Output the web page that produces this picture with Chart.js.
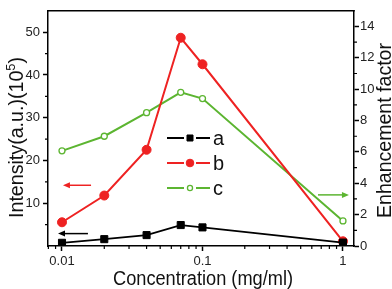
<!DOCTYPE html>
<html lang="en">
<head>
<meta charset="UTF-8">
<title>Intensity / Enhancement factor</title>
<style>
    body { margin: 0; background: #fff; }
    .chart-container { width: 392px; height: 289px; }
</style>
</head>
<body>
<div class="chart-container"><canvas id="enhChart"></canvas></div>

<script src="https://cdn.jsdelivr.net/npm/chart.js"></script>
<script>
    // data
    const concentrations = [0.01, 0.02, 0.04, 0.07, 0.1, 1];
    const seriesA = [0.75, 1.6, 2.55, 4.9, 4.35, 0.8];     // left axis
    const seriesB = [5.55, 11.8, 22.5, 48.7, 42.5, 1.1];   // left axis
    const seriesC = [6.07, 7.0, 8.5, 9.8, 9.4, 1.6];       // right axis
    const seriesNames = ['a', 'b', 'c'];

    const xTickValues = [0.01, 0.1, 1];
    const xMinorValues = [0.008, 0.009, 0.02, 0.03, 0.04, 0.05, 0.06, 0.07, 0.08, 0.09,
                          0.2, 0.3, 0.4, 0.5, 0.6, 0.7, 0.8, 0.9];
    const leftTickValues = [10, 20, 30, 40, 50];
    const leftMinorValues = [5, 15, 25, 35, 45];
    const rightTickValues = [0, 2, 4, 6, 8, 10, 12, 14];
    const rightMinorValues = [1, 3, 5, 7, 9, 11, 13];

    const FONT = "'Liberation Sans', Arial, sans-serif";
    const RED = '#ee2222';
    const GREEN = '#5cb531';

    const toPoints = ys => concentrations.map((x, i) => ({ x: x, y: ys[i] }));

    // arrows showing which axis a series belongs to
    const arrows = [
        { from: 0.0153, to: 0.00937, y: 2.9, axis: 'y', color: '#000' },
        { from: 0.0161, to: 0.01016, y: 14.2, axis: 'y', color: RED },
        { from: 0.664, to: 1.103, y: 3.26, axis: 'y1', color: GREEN }
    ];

    function fittedText(ctx, text, x, y, rot, target, font) {
        ctx.save();
        ctx.font = font;
        const w = ctx.measureText(text).width;
        ctx.translate(x, y);
        ctx.rotate(rot);
        ctx.scale(target / w, 1);
        ctx.textAlign = 'center';
        ctx.textBaseline = 'alphabetic';
        ctx.fillText(text, 0, 0);
        ctx.restore();
    }

    const decor = {
        id: 'decor',
        afterDraw(chart) {
            const { ctx, chartArea: a, scales } = chart;
            ctx.save();
            ctx.strokeStyle = '#000';
            ctx.lineWidth = 1.5;
            // top frame line
            ctx.beginPath();
            ctx.moveTo(a.left - 0.75, a.top);
            ctx.lineTo(a.right + 0.75, a.top);
            ctx.stroke();

            // minor ticks
            ctx.lineWidth = 1.2;
            ctx.beginPath();
            xMinorValues.forEach(v => {
                const px = scales.x.getPixelForValue(v);
                ctx.moveTo(px, a.bottom);
                ctx.lineTo(px, a.bottom + 3);
            });
            leftMinorValues.forEach(v => {
                const py = scales.y.getPixelForValue(v);
                ctx.moveTo(a.left, py);
                ctx.lineTo(a.left - 3, py);
            });
            rightMinorValues.forEach(v => {
                const py = scales.y1.getPixelForValue(v);
                ctx.moveTo(a.right, py);
                ctx.lineTo(a.right + 3, py);
            });
            ctx.stroke();

            // arrows
            arrows.forEach(ar => {
                const x0 = scales.x.getPixelForValue(ar.from);
                const x1 = scales.x.getPixelForValue(ar.to);
                const py = scales[ar.axis].getPixelForValue(ar.y);
                const dir = Math.sign(x1 - x0);
                ctx.strokeStyle = ar.color;
                ctx.fillStyle = ar.color;
                ctx.lineWidth = 1.5;
                ctx.beginPath();
                ctx.moveTo(x0, py);
                ctx.lineTo(x1 - dir * 5, py);
                ctx.stroke();
                ctx.beginPath();
                ctx.moveTo(x1, py);
                ctx.lineTo(x1 - dir * 7, py - 3);
                ctx.lineTo(x1 - dir * 7, py + 3);
                ctx.closePath();
                ctx.fill();
            });

            // legend (line - marker - line, small gaps round the marker)
            const legendY = [138, 163, 188];
            chart.data.datasets.forEach((ds, i) => {
                const ly = legendY[i];
                ctx.strokeStyle = ds.borderColor;
                ctx.lineWidth = 2;
                ctx.beginPath();
                ctx.moveTo(167, ly);
                ctx.lineTo(184, ly);
                ctx.moveTo(196, ly);
                ctx.lineTo(210, ly);
                ctx.stroke();
                ctx.fillStyle = ds.pointBackgroundColor;
                ctx.lineWidth = ds.pointBorderWidth;
                Chart.helpers.drawPoint(ctx, {
                    pointStyle: ds.pointStyle,
                    radius: ds.pointRadius * 0.85,
                    borderWidth: ds.pointBorderWidth
                }, 190, ly);
                ctx.fillStyle = '#111';
                ctx.font = '20px ' + FONT;
                ctx.textAlign = 'left';
                ctx.textBaseline = 'middle';
                ctx.fillText(ds.label, 213, ly + 1);
            });

            // axis titles
            ctx.fillStyle = '#111';
            fittedText(ctx, 'Concentration (mg/ml)', 203, 285, 0, 180, '20px ' + FONT);
            fittedText(ctx, 'Enhancement factor', 391, 130.5, -Math.PI / 2, 175, '20px ' + FONT);

            // left title with superscript
            ctx.save();
            const mainFont = '20px ' + FONT, supFont = '13px ' + FONT;
            ctx.font = mainFont;
            const w1 = ctx.measureText('Intensity(a.u.)(10').width;
            const w3 = ctx.measureText(')').width;
            ctx.font = supFont;
            const w2 = ctx.measureText('5').width;
            const total = w1 + w2 + w3;
            ctx.translate(23, 137.5);
            ctx.rotate(-Math.PI / 2);
            ctx.scale(161 / total, 1);
            ctx.textAlign = 'left';
            ctx.textBaseline = 'alphabetic';
            ctx.font = mainFont;
            ctx.fillText('Intensity(a.u.)(10', -total / 2, 0);
            ctx.font = supFont;
            ctx.fillText('5', -total / 2 + w1, -8);
            ctx.font = mainFont;
            ctx.fillText(')', -total / 2 + w1 + w2, 0);
            ctx.restore();

            ctx.restore();
        }
    };

    const tickFont = { family: FONT, size: 13 };

    new Chart(document.getElementById('enhChart').getContext('2d'), {
        type: 'line',
        data: {
            datasets: [
                { label: seriesNames[0], data: toPoints(seriesA), yAxisID: 'y',
                  borderColor: '#000', backgroundColor: '#000', borderWidth: 1.8,
                  pointStyle: 'rect', pointRadius: 5, pointBackgroundColor: '#000', pointBorderWidth: 1 },
                { label: seriesNames[1], data: toPoints(seriesB), yAxisID: 'y',
                  borderColor: RED, backgroundColor: RED, borderWidth: 2,
                  pointStyle: 'circle', pointRadius: 4.5, pointBackgroundColor: RED, pointBorderWidth: 1 },
                { label: seriesNames[2], data: toPoints(seriesC), yAxisID: 'y1',
                  borderColor: GREEN, backgroundColor: '#fff', borderWidth: 2,
                  pointStyle: 'circle', pointRadius: 3, pointBackgroundColor: '#fff', pointBorderWidth: 1.3 }
            ]
        },
        options: {
            responsive: true,
            maintainAspectRatio: false,
            animation: false,
            layout: { padding: { top: 2, left: 0, right: 0, bottom: 0 } },
            plugins: { legend: { display: false }, tooltip: { enabled: false } },
            scales: {
                x: {
                    type: 'logarithmic', position: 'bottom', min: 0.00795, max: 1.198,
                    afterFit(s) { s.height = 43; },
                    afterBuildTicks(s) { s.ticks = xTickValues.map(v => ({ value: v })); },
                    ticks: { callback: v => String(v), font: tickFont, color: '#222', padding: 3,
                             maxRotation: 0, autoSkip: false },
                    grid: { drawOnChartArea: false, tickLength: 5, tickColor: '#000', tickWidth: 1.5 },
                    border: { color: '#000', width: 1.5 }
                },
                y: {
                    position: 'left', min: 0, max: 55,
                    afterFit(s) { s.width = 48; },
                    afterBuildTicks(s) { s.ticks = leftTickValues.map(v => ({ value: v })); },
                    ticks: { font: tickFont, color: '#222', padding: 3 },
                    grid: { drawOnChartArea: false, tickLength: 5, tickColor: '#000', tickWidth: 1.5 },
                    border: { color: '#000', width: 1.5 }
                },
                y1: {
                    position: 'right', min: 0, max: 15,
                    afterFit(s) { s.width = 38; },
                    afterBuildTicks(s) { s.ticks = rightTickValues.map(v => ({ value: v })); },
                    ticks: { font: tickFont, color: '#222', padding: 1 },
                    grid: { drawOnChartArea: false, tickLength: 5, tickColor: '#000', tickWidth: 1.5 },
                    border: { color: '#000', width: 1.5 }
                }
            }
        },
        plugins: [decor]
    });
</script>
</body>
</html>
